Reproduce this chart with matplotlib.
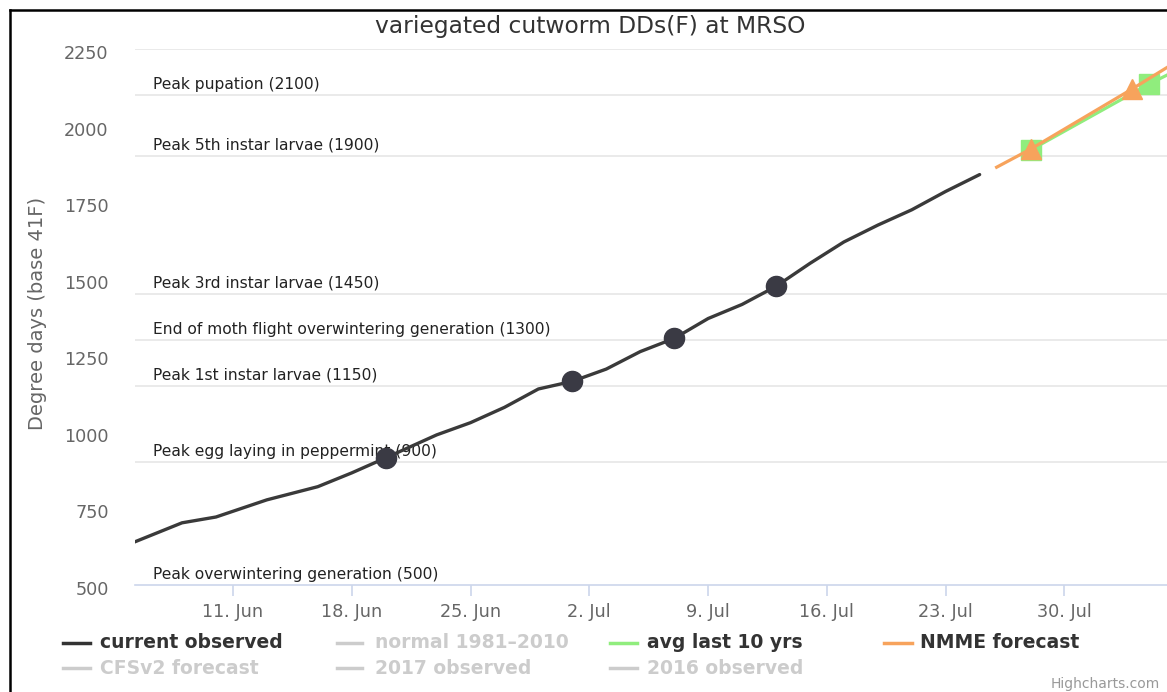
import matplotlib
matplotlib.use("Agg")
import matplotlib.pyplot as plt
import matplotlib.dates as mdates
import matplotlib.transforms as mtransforms
from matplotlib.lines import Line2D
import datetime as dt

# ---------------- data ----------------
obs_dates = ["2018-06-05", "2018-06-08", "2018-06-10", "2018-06-13", "2018-06-16",
             "2018-06-18", "2018-06-20", "2018-06-23", "2018-06-25", "2018-06-27",
             "2018-06-29", "2018-07-01", "2018-07-03", "2018-07-05", "2018-07-07",
             "2018-07-09", "2018-07-11", "2018-07-13", "2018-07-15", "2018-07-17",
             "2018-07-19", "2018-07-21", "2018-07-23", "2018-07-25"]
obs_values = [636, 703, 722, 778, 821, 866, 915, 990, 1030, 1080,
              1140, 1165, 1205, 1262, 1305, 1370, 1416, 1475, 1550, 1620,
              1675, 1725, 1785, 1840]
milestone_dates = ["2018-06-20", "2018-07-01", "2018-07-07", "2018-07-13"]

avg10_dates = ["2018-07-28", "2018-08-04", "2018-08-11"]
avg10_values = [1920, 2136, 2330]

nmme_dates = ["2018-07-26", "2018-07-28", "2018-08-03", "2018-08-09"]
nmme_values = [1864, 1923, 2120, 2325]

stage_values = [2100, 1900, 1450, 1300, 1150, 900, 500]
stage_labels = ["Peak pupation (2100)", "Peak 5th instar larvae (1900)",
                "Peak 3rd instar larvae (1450)",
                "End of moth flight overwintering generation (1300)",
                "Peak 1st instar larvae (1150)",
                "Peak egg laying in peppermint (900)",
                "Peak overwintering generation (500)"]

y_ticks = [500, 750, 1000, 1250, 1500, 1750, 2000, 2250]
x_tick_dates = ["2018-06-11", "2018-06-18", "2018-06-25", "2018-07-02",
                "2018-07-09", "2018-07-16", "2018-07-23", "2018-07-30"]
x_tick_labels = ["11. Jun", "18. Jun", "25. Jun", "2. Jul", "9. Jul",
                 "16. Jul", "23. Jul", "30. Jul"]

legend_names = ["current observed", "normal 1981–2010", "avg last 10 yrs", "NMME forecast",
                "CFSv2 forecast", "2017 observed", "2016 observed"]
legend_visible = [True, False, True, True, False, False, False]
legend_colors = ["#333333", "#cccccc", "#90ed7d", "#f7a35c", "#cccccc", "#cccccc", "#cccccc"]

title = "variegated cutworm DDs(F) at MRSO"
y_label = "Degree days (base 41F)"

# ---------------- figure ----------------
W, H = 1167, 692
plt.rcParams['font.family'] = ['DejaVu Sans']
fig = plt.figure(figsize=(W / 100, H / 100), dpi=100)

def fx(x):
    return x / W

def fy(y):
    return 1 - y / H

left, right, top, bottom = 135, 1167, 49, 585
ax = fig.add_axes([fx(left), fy(bottom), fx(right - left), fy(top) - fy(bottom)])

to_num = lambda s: mdates.date2num(dt.datetime.strptime(s, "%Y-%m-%d"))
ox = [to_num(d) for d in obs_dates]
ax.set_xlim(to_num("2018-06-05") + 0.23, to_num("2018-08-05") + 0.04)
ax.set_ylim(500, 2250)

# plot lines (stages) and top grid
ax.axhline(2250, color="#e6e6e6", lw=1.2, zorder=1)
for v, lab in zip(stage_values, stage_labels):
    if v != 500:
        ax.axhline(v, color="#e6e6e6", lw=1.2, zorder=1)
    ax.annotate(lab, xy=(0, v), xycoords=("axes fraction", "data"),
                xytext=(13, 4.5), textcoords="offset points",
                fontsize=11.2, color="#222222", va="baseline", ha="left", zorder=2)

# series
mk_idx = [obs_dates.index(d) for d in milestone_dates]
ax.plot(ox, obs_values, color="#3a3a3a", lw=2.4, solid_capstyle="round",
        solid_joinstyle="round", zorder=4)
ax.plot([ox[i] for i in mk_idx], [obs_values[i] for i in mk_idx], "o",
        color="#3a3a44", ms=14.5, zorder=5)

gx = [to_num(d) for d in avg10_dates]
ax.plot(gx, avg10_values, color="#90ed7d", lw=2.3, marker="s", ms=15, zorder=3)
nx = [to_num(d) for d in nmme_dates]
ax.plot(nx, nmme_values, color="#f7a35c", lw=2.3, zorder=4)
ax.plot(nx[1:], nmme_values[1:], "^", color="#f7a35c", ms=15, zorder=4)

# axes styling
for s in ["top", "right", "left"]:
    ax.spines[s].set_visible(False)
ax.spines["bottom"].set_color("#ccd6eb")
ax.spines["bottom"].set_linewidth(1.2)
ax.set_yticks(y_ticks)
ax.set_yticklabels([str(v) for v in y_ticks])
ax.tick_params(axis="y", length=0, pad=19, labelsize=12.7, labelcolor="#666666")
off = mtransforms.ScaledTranslation(0, -5 / 100, fig.dpi_scale_trans)
for lab in ax.get_yticklabels():
    lab.set_verticalalignment("center")
    lab.set_transform(lab.get_transform() + off)
ax.set_xticks([to_num(d) for d in x_tick_dates])
ax.set_xticklabels(x_tick_labels)
ax.tick_params(axis="x", length=8, width=1.2, color="#ccd6eb", pad=5,
               labelsize=12.7, labelcolor="#666666")

# y label and title
fig.text(fx(38), fy(313), y_label, rotation=90, fontsize=14, color="#666666",
         ha="center", va="center")
fig.text(fx(590), fy(27), title, fontsize=16.8, color="#333333",
         ha="center", va="center")

# legend
col_dash = [(63, 90), (337, 362), (610, 637), (884, 912)]
col_text = [100, 375, 647, 920]
row_y = [643, 668]
for i, (name, vis, col) in enumerate(zip(legend_names, legend_visible, legend_colors)):
    r = 0 if i < 4 else 1
    c = i if i < 4 else i - 4
    x0, x1 = col_dash[c]
    fig.add_artist(Line2D([fx(x0), fx(x1)], [fy(row_y[r]), fy(row_y[r])],
                          color=col, lw=2.5, transform=fig.transFigure))
    fig.text(fx(col_text[c]), fy(row_y[r]), name, fontsize=13.5, fontweight="bold",
             color="#333333" if vis else "#cccccc", ha="left", va="center")

fig.text(fx(1160), fy(684), "Highcharts.com", fontsize=10, color="#999999",
         ha="right", va="center")

# outer border (left & top)
fig.add_artist(Line2D([fx(10), fx(10)], [fy(692), fy(10)], color="black", lw=1.8,
                      transform=fig.transFigure))
fig.add_artist(Line2D([fx(10), fx(1167)], [fy(10), fy(10)], color="black", lw=1.8,
                      transform=fig.transFigure))

fig.savefig("out.png", dpi=100)
